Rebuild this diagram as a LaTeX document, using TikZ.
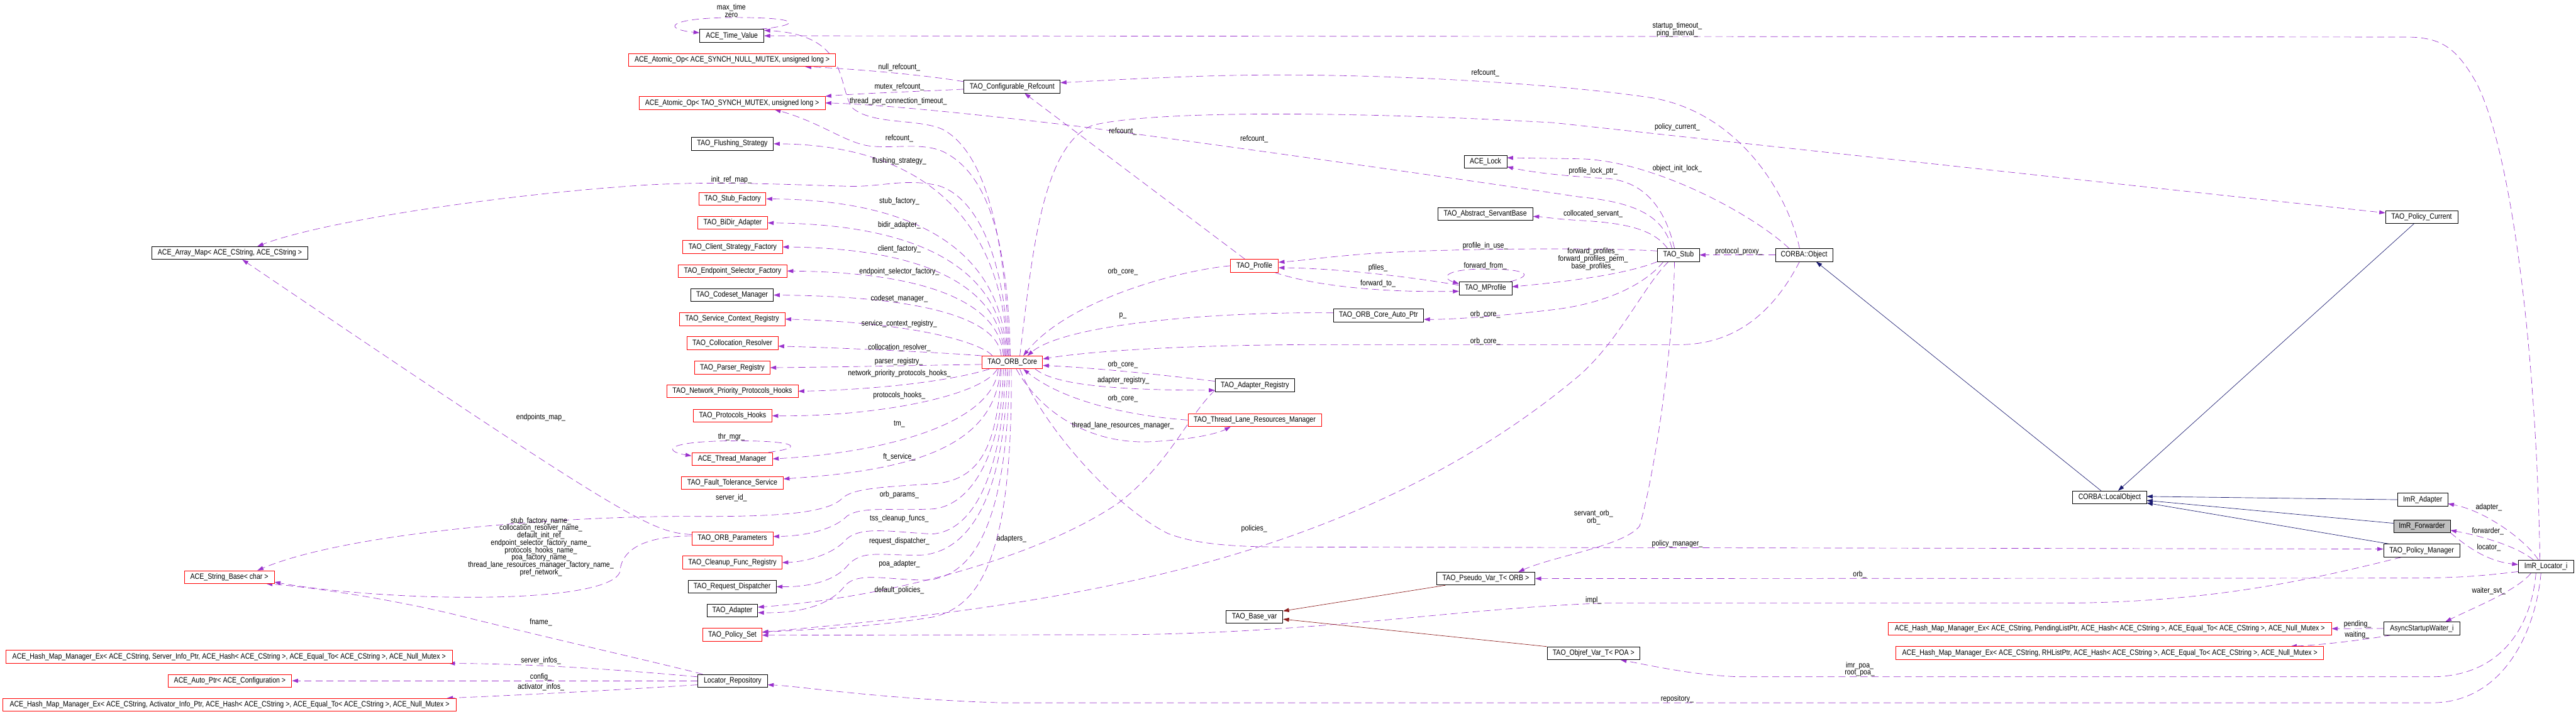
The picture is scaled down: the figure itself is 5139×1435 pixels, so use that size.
\documentclass[tikz,border=0pt]{standalone}
\usepackage{fontspec}
\setmainfont{Liberation Sans}[FakeStretch=0.85]
\usetikzlibrary{arrows.meta,calc,backgrounds}
\definecolor{purp}{RGB}{154,50,205}
\definecolor{navyb}{RGB}{25,25,112}
\definecolor{fbrick}{RGB}{139,26,26}
\definecolor{greyf}{RGB}{191,191,191}
\begin{document}
\begin{tikzpicture}[x=0.5pt,y=-0.5pt,
  nf/.style={font=\fontsize{7.8pt}{7.35pt}\selectfont},
  box/.style={nf,draw=black,line width=0.5pt,minimum height=12.8pt,inner sep=0pt,fill=white},
  rbox/.style={box,draw=red},
  bw/.style={minimum width=#1*0.5pt},
  lbl/.style={nf,inner sep=0pt,align=center},
  uses/.style={draw=purp,line width=0.42pt,dash pattern=on 7pt off 4pt,-{Triangle[length=6pt,width=4pt,fill=purp]}},
  inh/.style={draw=navyb,line width=0.42pt,-{Triangle[length=6pt,width=4pt,fill=navyb]}},
  tmpl/.style={draw=fbrick,line width=0.42pt,-{Triangle[length=6pt,width=4pt,fill=fbrick]}},
]
\useasboundingbox (0,0) rectangle (5139,1435);
% ---------------- nodes ----------------
\node[box,bw=128] (timev) at (1460,71.5) {ACE\_Time\_Value};
\node[rbox,bw=413] (atomnull) at (1460.5,120) {ACE\_Atomic\_Op< ACE\_SYNCH\_NULL\_MUTEX, unsigned long >};
\node[rbox,bw=371] (atomtao) at (1460.5,205.5) {ACE\_Atomic\_Op< TAO\_SYNCH\_MUTEX, unsigned long >};
\node[box,bw=192] (confref) at (2019,173) {TAO\_Configurable\_Refcount};
\node[box,bw=164] (flush) at (1461,287) {TAO\_Flushing\_Strategy};
\node[box,bw=311] (arraymap) at (458.5,505) {ACE\_Array\_Map< ACE\_CString, ACE\_CString >};
\node[rbox,bw=133] (stubf) at (1461.5,397) {TAO\_Stub\_Factory};
\node[rbox,bw=139] (bidir) at (1461.5,445) {TAO\_BiDir\_Adapter};
\node[rbox,bw=199] (clientsf) at (1461.5,493) {TAO\_Client\_Strategy\_Factory};
\node[rbox,bw=217] (endsel) at (1461.5,541) {TAO\_Endpoint\_Selector\_Factory};
\node[box,bw=165] (codeset) at (1460.5,589) {TAO\_Codeset\_Manager};
\node[rbox,bw=211] (servctx) at (1460.5,637) {TAO\_Service\_Context\_Registry};
\node[rbox,bw=182] (colloc) at (1461,685) {TAO\_Collocation\_Resolver};
\node[rbox,bw=121] (core) at (2019.5,723.5) {TAO\_ORB\_Core};
\node[rbox,bw=150] (parser) at (1461,734) {TAO\_Parser\_Registry};
\node[rbox,bw=262] (netprio) at (1461,781) {TAO\_Network\_Priority\_Protocols\_Hooks};
\node[rbox,bw=157] (protho) at (1461.5,830) {TAO\_Protocols\_Hooks};
\node[rbox,bw=161] (thrmgr) at (1460.5,916) {ACE\_Thread\_Manager};
\node[rbox,bw=203] (ftserv) at (1461,964) {TAO\_Fault\_Tolerance\_Service};
\node[rbox,bw=162] (orbparams) at (1461,1075) {TAO\_ORB\_Parameters};
\node[rbox,bw=198] (cleanup) at (1461,1123) {TAO\_Cleanup\_Func\_Registry};
\node[box,bw=176] (reqdisp) at (1460.5,1171) {TAO\_Request\_Dispatcher};
\node[box,bw=101] (adapter) at (1461,1219) {TAO\_Adapter};
\node[rbox,bw=118] (policyset) at (1461,1267) {TAO\_Policy\_Set};
\node[box,bw=139] (locrepo) at (1461.5,1359) {Locator\_Repository};
\node[rbox,bw=179] (stringbase) at (457.5,1152) {ACE\_String\_Base< char >};
\node[rbox,bw=890] (hashserver) at (457,1311) {ACE\_Hash\_Map\_Manager\_Ex< ACE\_CString, Server\_Info\_Ptr, ACE\_Hash< ACE\_CString >, ACE\_Equal\_To< ACE\_CString >, ACE\_Null\_Mutex >};
\node[rbox,bw=247] (autoptr) at (458.5,1359) {ACE\_Auto\_Ptr< ACE\_Configuration >};
\node[rbox,bw=904] (hashact) at (458,1407) {ACE\_Hash\_Map\_Manager\_Ex< ACE\_CString, Activator\_Info\_Ptr, ACE\_Hash< ACE\_CString >, ACE\_Equal\_To< ACE\_CString >, ACE\_Null\_Mutex >};
\node[rbox,bw=95] (profile) at (2502.5,530.5) {TAO\_Profile};
\node[box,bw=85] (acelock) at (2963.5,323) {ACE\_Lock};
\node[box,bw=190] (absserv) at (2963,427) {TAO\_Abstract\_ServantBase};
\node[box,bw=105] (mprofile) at (2963.5,575.5) {TAO\_MProfile};
\node[box,bw=180] (autoptrcore) at (2750,629.5) {TAO\_ORB\_Core\_Auto\_Ptr};
\node[box,bw=159] (adreg) at (2503.5,769) {TAO\_Adapter\_Registry};
\node[rbox,bw=266] (tlrm) at (2503,838.5) {TAO\_Thread\_Lane\_Resources\_Manager};
\node[box,bw=196] (pseudo) at (2964,1155) {TAO\_Pseudo\_Var\_T< ORB >};
\node[box,bw=113] (basevar) at (2502.5,1231) {TAO\_Base\_var};
\node[box,bw=185] (objref) at (3179,1304) {TAO\_Objref\_Var\_T< POA >};
\node[box,bw=83] (stub) at (3348.5,509) {TAO\_Stub};
\node[box,bw=114] (corbaobj) at (3599,509) {CORBA::Object};
\node[rbox,bw=884] (hashpend) at (4209,1255) {ACE\_Hash\_Map\_Manager\_Ex< ACE\_CString, PendingListPtr, ACE\_Hash< ACE\_CString >, ACE\_Equal\_To< ACE\_CString >, ACE\_Null\_Mutex >};
\node[rbox,bw=853] (hashrh) at (4209,1303.5) {ACE\_Hash\_Map\_Manager\_Ex< ACE\_CString, RHListPtr, ACE\_Hash< ACE\_CString >, ACE\_Equal\_To< ACE\_CString >, ACE\_Null\_Mutex >};
\node[box,bw=144] (policycur) at (4831,433) {TAO\_Policy\_Current};
\node[box,bw=147] (localobj) at (4208.5,993) {CORBA::LocalObject};
\node[box,bw=100] (imradapter) at (4833,997.5) {ImR\_Adapter};
\node[box,bw=113,fill=greyf] (imrfwd) at (4831.5,1050.5) {ImR\_Forwarder};
\node[box,bw=152] (policymgr) at (4831,1099) {TAO\_Policy\_Manager};
\node[box,bw=110] (locator) at (5079,1131) {ImR\_Locator\_i};
\node[box,bw=151] (waiter) at (4831.5,1254.5) {AsyncStartupWaiter\_i};
% ---------------- labels ----------------
\node[lbl] (l1) at (1459,21) {max\_time\\zero};
\node[lbl] (l2) at (3346,59) {startup\_timeout\_\\ping\_interval\_};
\node[lbl] (l3) at (1794,135) {null\_refcount\_};
\node[lbl] (l4) at (1794,174) {mutex\_refcount\_};
\node[lbl] (l5) at (1792,202) {thread\_per\_connection\_timeout\_};
\node[lbl] (l6) at (1794,276) {refcount\_};
\node[lbl] (l7) at (2240,263) {refcount\_};
\node[lbl] (l8) at (2502,278) {refcount\_};
\node[lbl] (l9) at (2963,146) {refcount\_};
\node[lbl] (l10) at (3346,254) {policy\_current\_};
\node[lbl] (l11) at (3346,336) {object\_init\_lock\_};
\node[lbl] (l12) at (3178,342) {profile\_lock\_ptr\_};
\node[lbl] (l13) at (3178,427) {collocated\_servant\_};
\node[lbl] (l14) at (2963,491) {profile\_in\_use\_};
\node[lbl] (l15) at (3178,517) {forward\_profiles\_\\forward\_profiles\_perm\_\\base\_profiles\_};
\node[lbl] (l16) at (2963,531) {forward\_from\_};
\node[lbl] (l17) at (2749,535) {pfiles\_};
\node[lbl] (l18) at (2749,566) {forward\_to\_};
\node[lbl] (l19) at (3469,502) {protocol\_proxy\_};
\node[lbl] (l20) at (2240,542) {orb\_core\_};
\node[lbl] (l21) at (2240,631) {p\_};
\node[lbl] (l22) at (2963,627) {orb\_core\_};
\node[lbl] (l23) at (2963,681) {orb\_core\_};
\node[lbl] (l24) at (2240,728) {orb\_core\_};
\node[lbl] (l25) at (2241,760) {adapter\_registry\_};
\node[lbl] (l26) at (2240,796) {orb\_core\_};
\node[lbl] (l27) at (2240,850) {thread\_lane\_resources\_manager\_};
\node[lbl] (l28) at (1794,321) {flushing\_strategy\_};
\node[lbl] (l29) at (1459,359) {init\_ref\_map\_};
\node[lbl] (l30) at (1794,402) {stub\_factory\_};
\node[lbl] (l31) at (1794,450) {bidir\_adapter\_};
\node[lbl] (l32) at (1794,497) {client\_factory\_};
\node[lbl] (l33) at (1794,542) {endpoint\_selector\_factory\_};
\node[lbl] (l34) at (1794,596) {codeset\_manager\_};
\node[lbl] (l35) at (1794,646) {service\_context\_registry\_};
\node[lbl] (l36) at (1794,694) {collocation\_resolver\_};
\node[lbl] (l37) at (1793,722) {parser\_registry\_};
\node[lbl] (l38) at (1794,746) {network\_priority\_protocols\_hooks\_};
\node[lbl] (l39) at (1794,789) {protocols\_hooks\_};
\node[lbl] (l40) at (1794,847) {tm\_};
\node[lbl] (l41) at (1459,872) {thr\_mgr\_};
\node[lbl] (l42) at (1794,912) {ft\_service\_};
\node[lbl] (l43) at (1459,994) {server\_id\_};
\node[lbl] (l44) at (1794,988) {orb\_params\_};
\node[lbl] (l45) at (1794,1035) {tss\_cleanup\_funcs\_};
\node[lbl] (l46) at (1794,1081) {request\_dispatcher\_};
\node[lbl] (l47) at (1794,1126) {poa\_adapter\_};
\node[lbl] (l48) at (1794,1178) {default\_policies\_};
\node[lbl] (l49) at (2018,1076) {adapters\_};
\node[lbl] (l50) at (1079,833) {endpoints\_map\_};
\node[lbl] (l51) at (1079,1091.5) {stub\_factory\_name\_\\collocation\_resolver\_name\_\\default\_init\_ref\_\\endpoint\_selector\_factory\_name\_\\protocols\_hooks\_name\_\\poa\_factory\_name\_\\thread\_lane\_resources\_manager\_factory\_name\_\\pref\_network\_};
\node[lbl] (l52) at (1079,1242) {fname\_};
\node[lbl] (l53) at (1079,1319) {server\_infos\_};
\node[lbl] (l54) at (1079,1351) {config\_};
\node[lbl] (l55) at (1079,1371) {activator\_infos\_};
\node[lbl] (l56) at (2502,1056) {policies\_};
\node[lbl] (l57) at (3179,1033) {servant\_orb\_\\orb\_};
\node[lbl] (l58) at (3346,1086) {policy\_manager\_};
\node[lbl] (l59) at (3710,1147) {orb\_};
\node[lbl] (l60) at (3179,1198) {impl\_};
\node[lbl] (l61) at (3710,1336) {imr\_poa\_\\root\_poa\_};
\node[lbl] (l62) at (3346,1395) {repository\_};
\node[lbl] (l63) at (4965,1013) {adapter\_};
\node[lbl] (l64) at (4963,1061) {forwarder\_};
\node[lbl] (l65) at (4965,1093) {locator\_};
\node[lbl] (l66) at (4965,1180) {waiter\_svt\_};
\node[lbl] (l67) at (4703,1246) {pending\_};
\node[lbl] (l68) at (4702,1267) {waiting\_};
% ---------------- edges ----------------
\begin{scope}[on background layer]
\fill[white] (0,0) rectangle (5139,1435);
% self loops
\draw[uses] ($(timev.north east)+(-8,0)$) .. controls (1600,50) and (1600,35) .. (1470,35) .. controls (1330,35) and (1320,58) .. ($(timev.west)+(0,-6)$);
\draw[uses] ($(thrmgr.north east)+(-8,0)$) .. controls (1600,895) and (1600,880) .. (1470,880) .. controls (1330,880) and (1320,900) .. ($(thrmgr.west)+(0,-6)$);
\draw[uses] ($(mprofile.north east)+(-4,0)$) .. controls (3060,550) and (3050,537) .. (2963,537) .. controls (2880,537) and (2875,555) .. ($(mprofile.west)+(0,-9)$);
% ImR_Locator_i -> ACE_Time_Value
\draw[uses] ($(locator.north)+(-12,0)$) .. controls (5060,700) and (5010,300) .. (4940,165) .. controls (4900,95) and (4870,74) .. (4800,74) -- (timev.east);
% ORB_Core -> ACE_Time_Value
\draw[uses] ($(core.north)+(-6,0)$) .. controls (2005,450) and (1960,300) .. (1880,258) .. controls (1830,236) and (1740,250) .. (1700,215) .. controls (1670,170) and (1695,70) .. ($(timev.east)+(0,-11)$);
% Configurable refcount
\draw[uses] ($(confref.west)+(0,-10)$) .. controls (1850,150) and (1700,137) .. ($(atomnull.south)+(146,0)$);
\draw[uses] ($(confref.west)+(0,5)$) .. controls (1850,182) and (1720,186) .. (atomtao.north east);
\draw[uses] ($(corbaobj.north)+(-9,0)$) .. controls (3570,400) and (3480,230) .. (3300,196) .. controls (3100,165) and (2700,142) .. (2400,152) .. controls (2250,157) and (2160,163) .. ($(confref.east)+(0,-8)$);
\draw[uses] ($(profile.north)+(-19,0)$) -- ($(confref.south)+(25,0)$);
% refcount_ to atomtao
\draw[uses] ($(core.north)+(-4,0)$) .. controls (2010,450) and (1960,340) .. (1880,302) .. controls (1840,285) and (1790,296) .. (1740,292) .. controls (1690,288) and (1640,245) .. ($(atomtao.south)+(85,0)$);
\draw[uses] ($(stub.north)+(-13,0)$) .. controls (3320,440) and (3280,405) .. (3150,393) .. controls (2900,355) and (2400,285) .. (2150,252) .. controls (1950,228) and (1750,208) .. (atomtao.east);
% policy current
\draw[uses] ($(core.north)+(15,0)$) .. controls (2060,500) and (2080,290) .. (2180,250) .. controls (2300,220) and (2700,222) .. (3100,245) -- ($(policycur.west)+(0,-8)$);
% init_ref_map_
\draw[uses] ($(core.north)+(-8,0)$) .. controls (2005,500) and (1940,380) .. (1860,368) .. controls (1800,358) and (1760,372) .. (1700,372) .. controls (1550,368) and (1400,360) .. (1250,372) .. controls (1000,390) and (650,440) .. ($(arraymap.north)+(55,0)$);
% ORB core to left column (upper)
\draw[uses] ($(core.north)+(-10,0)$) .. controls (2004,478) and (1880,290) .. (flush.east);
\draw[uses] ($(core.north)+(-12,0)$) .. controls (2002,538) and (1880,400) .. (stubf.east);
\draw[uses] ($(core.north)+(-14,0)$) .. controls (2000,565) and (1880,448) .. (bidir.east);
\draw[uses] ($(core.north)+(-16,0)$) .. controls (1998,591) and (1880,496) .. (clientsf.east);
\draw[uses] ($(core.north)+(-18,0)$) .. controls (1996,618) and (1880,544) .. (endsel.east);
\draw[uses] ($(core.north)+(-22,0)$) .. controls (1992,644) and (1870,592) .. (codeset.east);
\draw[uses] ($(core.north)+(-40,0)$) .. controls (1965,690) and (1850,645) .. (servctx.east);
\draw[uses] (core.north west) .. controls (1900,705) and (1700,695) .. ($(colloc.east)+(0,6)$);
% ORB core to left column (lower)
\draw[uses] ($(core.west)+(0,4)$) .. controls (1800,730) and (1650,733) .. (parser.east);
\draw[uses] ($(core.south west)+(15,0)$) .. controls (1900,760) and (1750,778) .. (netprio.east);
\draw[uses] ($(core.south)+(-30,0)$) .. controls (1960,790) and (1750,832) .. (protho.east);
\draw[uses] ($(core.south)+(-28,0)$) .. controls (1980,850) and (1750,905) .. (thrmgr.east);
\draw[uses] ($(core.south)+(-24,0)$) .. controls (1985,900) and (1800,940) .. ($(ftserv.east)+(0,-8)$);
\draw[uses] ($(core.south)+(-22,0)$) .. controls (1990,900) and (1950,960) .. (1860,966) .. controls (1760,972) and (1700,975) .. (1680,995) .. controls (1650,1025) and (1550,1031) .. (1400,1031) .. controls (1150,1028) and (700,1060) .. ($(stringbase.north)+(56,0)$);
\draw[uses] ($(core.south)+(-18,0)$) .. controls (2000,900) and (1940,1010) .. (1860,1016) .. controls (1780,1020) and (1720,1010) .. (1690,1030) .. controls (1660,1060) and (1600,1070) .. ($(orbparams.east)+(0,-4)$);
\draw[uses] ($(core.south)+(-14,0)$) .. controls (2000,950) and (1940,1060) .. (1860,1066) .. controls (1780,1062) and (1720,1050) .. (1690,1075) .. controls (1660,1110) and (1600,1122) .. (cleanup.east);
\draw[uses] ($(core.south)+(-10,0)$) .. controls (2005,1000) and (1930,1100) .. (1840,1108) .. controls (1760,1110) and (1720,1095) .. (1690,1130) .. controls (1660,1165) and (1600,1172) .. (reqdisp.east);
\draw[uses] ($(core.south)+(-6,0)$) .. controls (2010,1050) and (1940,1150) .. (1850,1158) .. controls (1770,1158) and (1710,1140) .. (1685,1170) .. controls (1650,1215) and (1580,1224) .. ($(adapter.east)+(0,4)$);
\draw[uses] ($(core.south)+(-2,0)$) .. controls (2020,1100) and (1960,1210) .. (1860,1232) .. controls (1750,1250) and (1650,1255) .. ($(policyset.east)+(0,-5)$);
% ORB_Parameters
\draw[uses] ($(orbparams.west)+(0,-8)$) .. controls (1300,1062) and (1265,1047) .. ($(arraymap.south)+(25,0)$);
\draw[uses] ($(orbparams.west)+(0,-5)$) .. controls (1290,1070) and (1240,1095) .. (1237,1140) .. controls (1230,1175) and (1100,1195) .. (900,1192) .. controls (750,1190) and (620,1175) .. ($(stringbase.east)+(0,10)$);
% Locator repository
\draw[uses] ($(locrepo.north west)+(10,0)$) .. controls (1300,1320) and (1100,1275) .. (900,1225) .. controls (750,1190) and (600,1170) .. ($(stringbase.south east)+(-16,0)$);
\draw[uses] ($(locrepo.west)+(0,-8)$) .. controls (1300,1343) and (1100,1325) .. ($(hashserver.south east)+(-7,0)$);
\draw[uses] (locrepo.west) -- (autoptr.east);
\draw[uses] ($(locrepo.west)+(0,8)$) .. controls (1300,1373) and (1100,1385) .. ($(hashact.north east)+(-19,0)$);
% right side of ORB core
\draw[uses] (profile.west) .. controls (2350,540) and (2130,600) .. ($(core.north)+(22,0)$);
\draw[uses] ($(autoptrcore.west)+(0,-5)$) .. controls (2400,622) and (2120,650) .. ($(core.north)+(30,0)$);
\draw[uses] ($(stub.south)+(-30,0)$) .. controls (3280,570) and (3200,606) .. (3100,618) .. controls (3000,630) and (2900,638) .. ($(autoptrcore.east)+(0,8)$);
\draw[uses] ($(corbaobj.south)+(-9,0)$) .. controls (3550,600) and (3480,688) .. (3350,688) -- (2600,688) .. controls (2300,690) and (2150,705) .. ($(core.east)+(0,-7)$);
\draw[uses] ($(adreg.west)+(0,-8)$) .. controls (2350,752) and (2200,735) .. ($(core.east)+(0,6)$);
\draw[uses] ($(core.south east)+(-15,0)$) .. controls (2100,765) and (2200,779) .. ($(adreg.west)+(0,10)$);
\draw[uses] (tlrm.west) .. controls (2250,830) and (2120,800) .. ($(core.south)+(22,0)$);
\draw[uses] ($(core.south)+(8,0)$) .. controls (2080,830) and (2180,885) .. (2290,882) .. controls (2380,878) and (2430,865) .. ($(tlrm.south)+(-48,0)$);
\draw[uses] ($(adreg.south west)+(0,-3)$) .. controls (2370,830) and (2330,930) .. (2230,1005) .. controls (2060,1120) and (1750,1195) .. ($(adapter.east)+(0,-7)$);
\draw[uses] ($(core.south)+(15,0)$) .. controls (2080,850) and (2220,1010) .. (2330,1065) .. controls (2400,1092) and (2500,1092) .. (2600,1092) -- ($(policymgr.west)+(0,-3)$);
% Stub edges
\draw[uses] ($(stub.south)+(-20,0)$) .. controls (3280,570) and (3230,680) .. (3150,750) .. controls (2900,960) and (2600,1080) .. (2300,1150) .. controls (2000,1220) and (1700,1245) .. ($(policyset.east)+(0,-5)$);
\draw[uses] ($(stub.west)+(0,-8)$) .. controls (3200,494) and (2900,496) .. (2750,505) .. controls (2650,512) and (2600,520) .. ($(profile.east)+(0,-7)$);
\draw[uses] ($(mprofile.west)+(0,-6)$) .. controls (2800,550) and (2650,535) .. ($(profile.east)+(0,4)$);
\draw[uses] ($(profile.south)+(40,0)$) .. controls (2620,570) and (2750,584) .. ($(mprofile.west)+(0,6)$);
\draw[uses] (stub.south west) .. controls (3250,545) and (3150,560) .. ($(mprofile.east)+(0,-3)$);
\draw[uses] ($(stub.north)+(-8,0)$) .. controls (3325,430) and (3290,360) .. (3200,356) .. controls (3130,352) and (3060,345) .. ($(acelock.east)+(0,10)$);
\draw[uses] ($(corbaobj.north)+(-30,0)$) .. controls (3500,430) and (3300,320) .. (3150,317) -- ($(acelock.east)+(0,-8)$);
\draw[uses] ($(stub.north)+(-22,0)$) .. controls (3300,460) and (3250,445) .. (3150,440) .. controls (3100,437) and (3080,433) .. ($(absserv.east)+(0,5)$);
\draw[uses] (corbaobj.west) -- (stub.east);
\draw[uses] ($(stub.south)+(-8,0)$) .. controls (3338,700) and (3300,950) .. (3271,1050) .. controls (3240,1090) and (3100,1110) .. ($(pseudo.north)+(65,0)$);
% ImR_Locator_i edges
\draw[uses] ($(locator.west)+(0,10)$) .. controls (4950,1150) and (4900,1154) .. (4800,1154) -- (pseudo.east);
\draw[uses] ($(locator.south)+(-20,0)$) .. controls (5050,1250) and (4990,1351) .. (4850,1351) -- (3470,1351) .. controls (3380,1348) and (3300,1330) .. ($(objref.south)+(54,0)$);
\draw[uses] ($(locator.south)+(-10,0)$) .. controls (5060,1250) and (5000,1403) .. (4850,1403) -- (2000,1403) .. controls (1750,1395) and (1600,1370) .. ($(locrepo.east)+(0,8)$);
\draw[uses] ($(imrfwd.east)+(0,13)$) .. controls (4920,1090) and (4960,1120) .. ($(locator.west)+(0,-4)$);
\draw[uses] ($(locator.north)+(-15,0)$) .. controls (5040,1080) and (4960,1020) .. ($(imradapter.east)+(0,8)$);
\draw[uses] ($(locator.north)+(-25,0)$) .. controls (5020,1090) and (4950,1070) .. ($(imrfwd.east)+(0,8)$);
\draw[uses] ($(locator.south)+(-30,0)$) .. controls (5020,1180) and (4930,1215) .. ($(waiter.north)+(47,0)$);
\draw[uses] ($(policymgr.south)+(-40,0)$) .. controls (4600,1160) and (4400,1204) .. (4100,1204) -- (3200,1204) .. controls (2900,1215) and (2650,1262) .. (2250,1267) -- ($(policyset.east)+(0,1)$);
\draw[uses] (waiter.west) -- (hashpend.east);
\draw[uses] ($(waiter.south west)+(15,0)$) .. controls (4700,1280) and (4620,1288) .. ($(hashrh.north)+(361,0)$);
% inheritance
\draw[inh] ($(localobj.north)+(-17,0)$) -- ($(corbaobj.south)+(24,0)$);
\draw[inh] ($(policycur.south)+(-15,0)$) -- ($(localobj.north)+(17,0)$);
\draw[inh] (imradapter.west) -- ($(localobj.east)+(0,-2)$);
\draw[inh] ($(imrfwd.west)+(0,-6)$) -- ($(localobj.east)+(0,6)$);
\draw[inh] ($(policymgr.north)+(-65,0)$) -- ($(localobj.east)+(0,11)$);
\draw[tmpl] ($(pseudo.south west)+(18,0)$) -- ($(basevar.north east)+(0,2)$);
\draw[tmpl] (objref.north west) -- ($(basevar.east)+(0,5)$);
\end{scope}
\end{tikzpicture}
\end{document}
